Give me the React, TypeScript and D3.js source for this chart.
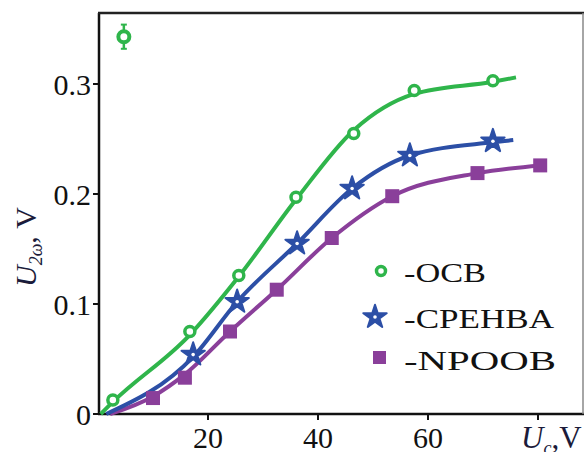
import React from "react";
import * as d3 from "d3";

const xTicks = [20, 40, 60, 80];
const yTicks = [0, 0.1, 0.2, 0.3];
const yTickLabels = ["0", "0.1", "0.2", "0.3"];

const ocbX = [2.7, 16.7, 25.6, 36, 46.5, 57.5, 71.8];
const ocbY = [0.0127, 0.075, 0.126, 0.197, 0.255, 0.294, 0.303];
const ocbFitX = [0.5, 2.7, 16.7, 25.6, 36, 46.5, 57.5, 71.8, 76];
const ocbFitY = [0, 0.011, 0.072, 0.125, 0.195, 0.258, 0.291, 0.302, 0.306];

const outlierX = [4.7];
const outlierY = [0.343];
const outlierErr = [0.011];

const cpeX = [17.3, 25.3, 36.2, 46.2, 56.7, 71.8];
const cpeY = [0.054, 0.102, 0.155, 0.205, 0.235, 0.248];
const cpeFitX = [1.5, 17.3, 25.3, 36.2, 46.2, 56.7, 71.8, 75.5];
const cpeFitY = [0, 0.052, 0.102, 0.155, 0.205, 0.235, 0.247, 0.249];

const npoX = [10, 15.8, 24, 32.5, 42.5, 53.5, 69, 80.4];
const npoY = [0.0145, 0.033, 0.075, 0.113, 0.16, 0.198, 0.219, 0.226];
const npoFitX = [2.2, 10, 15.8, 24, 32.5, 42.5, 53.5, 69, 80.4];
const npoFitY = [0, 0.016, 0.036, 0.075, 0.113, 0.16, 0.198, 0.219, 0.226];

const legendLabels = ["-OCB", "-CPEHBA", "-NPOOB"];

const GREEN = "#2fb54b";
const BLUE = "#2c4fa6";
const PURPLE = "#8a3f9a";

export default function App() {
  const left = 98, right = 585, top = 13, bottom = 414;
  const x = d3.scaleLinear().domain([0, (right - left) / 5.5]).range([left, right]);
  const y = d3.scaleLinear().domain([0, (bottom - top) / 1100]).range([bottom, top]);
  const line = d3
    .line<[number, number]>()
    .x((d) => x(d[0]))
    .y((d) => y(d[1]))
    .curve(d3.curveMonotoneX);
  const zip = (a: number[], b: number[]) => a.map((v, i) => [v, b[i]] as [number, number]);
  const star = d3.symbol().type(d3.symbolStar).size(170)();
  const font = "Liberation Serif, Tinos, 'Times New Roman', Times, serif";
  const legendY = [282, 328, 370];
  const legendLen = [82, 150, 152];

  return (
    <svg width={587} height={452} style={{ position: "absolute", left: 0, top: 0 }}>
      <rect x={0} y={0} width={587} height={452} fill="#fff" />
      {/* frame */}
      <line x1={left + 1} y1={top} x2={left + 1} y2={bottom} stroke="#111" strokeWidth={2.5} />
      <line x1={left} y1={top} x2={right - 1} y2={top} stroke="#222" strokeWidth={2.5} />
      <line x1={left} y1={bottom} x2={right - 1} y2={bottom} stroke="#111" strokeWidth={2.5} />
      <line x1={right - 2} y1={top} x2={right - 2} y2={bottom} stroke="#888" strokeWidth={1.5} />
      {/* y ticks */}
      {yTicks.map((t, i) => (
        <g key={"y" + i}>
          <line x1={left - 5} x2={left} y1={y(t)} y2={y(t)} stroke="#111" strokeWidth={2} />
          <text x={91} y={y(t)} dy="0.35em" textAnchor="end" fontFamily={font} fontSize={30} fill="#111">
            {yTickLabels[i]}
          </text>
        </g>
      ))}
      {xTicks.map((t, i) => (
        <g key={"x" + i}>
          <line x1={x(t)} x2={x(t)} y1={bottom} y2={bottom + 6} stroke="#111" strokeWidth={2} />
          {t !== 80 && (
            <text x={x(t)} y={448} textAnchor="middle" fontFamily={font} fontSize={30} fill="#111">
              {t}
            </text>
          )}
        </g>
      ))}
      {/* axis labels */}
      <text x={521} y={448} fontFamily={font} fontSize={31} fill="#1b1b3a">
        <tspan fontStyle="italic">U</tspan>
        <tspan fontStyle="italic" fontSize={18} dy={6}>c</tspan>
        <tspan dy={-6}>,V</tspan>
      </text>
      <text
        transform="translate(36,247) rotate(-90)"
        textAnchor="middle"
        fontFamily={font}
        fontSize={30}
        fill="#1b1b3a"
      >
        <tspan fontStyle="italic">U</tspan>
        <tspan fontStyle="italic" fontSize={18} dy={6}>2ω</tspan>
        <tspan dy={-6}>, V</tspan>
      </text>
      {/* lines */}
      <path d={line(zip(npoFitX, npoFitY)) || ""} fill="none" stroke={PURPLE} strokeWidth={4} />
      <path d={line(zip(cpeFitX, cpeFitY)) || ""} fill="none" stroke={BLUE} strokeWidth={4} />
      <path d={line(zip(ocbFitX, ocbFitY)) || ""} fill="none" stroke={GREEN} strokeWidth={4} />
      {/* markers */}
      {npoX.map((v, i) => (
        <rect key={"n" + i} x={x(v) - 7} y={y(npoY[i]) - 7} width={14} height={14} fill={PURPLE} />
      ))}
      {cpeX.map((v, i) => (
        <g key={"c" + i} transform={`translate(${x(v)},${y(cpeY[i])})`}>
          <path d={star || ""} fill={BLUE} stroke={BLUE} strokeWidth={2} strokeLinejoin="round" />
          <circle r={1.8} fill="#fff" />
        </g>
      ))}
      {ocbX.map((v, i) => (
        <circle key={"o" + i} cx={x(v)} cy={y(ocbY[i])} r={5} fill="#fff" stroke={GREEN} strokeWidth={3.5} />
      ))}
      {outlierX.map((v, i) => (
        <g key={"out" + i}>
          <line x1={x(v)} x2={x(v)} y1={y(outlierY[i] - outlierErr[i])} y2={y(outlierY[i] + outlierErr[i])} stroke={GREEN} strokeWidth={2.5} />
          <line x1={x(v) - 3} x2={x(v) + 3} y1={y(outlierY[i] - outlierErr[i])} y2={y(outlierY[i] - outlierErr[i])} stroke={GREEN} strokeWidth={2} />
          <line x1={x(v) - 3} x2={x(v) + 3} y1={y(outlierY[i] + outlierErr[i])} y2={y(outlierY[i] + outlierErr[i])} stroke={GREEN} strokeWidth={2} />
          <circle cx={x(v)} cy={y(outlierY[i])} r={5.5} fill="#fff" stroke={GREEN} strokeWidth={4} />
        </g>
      ))}
      {/* legend */}
      <circle cx={381} cy={271} r={4.5} fill="#fff" stroke={GREEN} strokeWidth={3.5} />
      <g transform="translate(375,317)">
        <path d={star || ""} fill={BLUE} stroke={BLUE} strokeWidth={2} strokeLinejoin="round" />
        <circle r={1.8} fill="#fff" />
      </g>
      <rect x={373} y={351} width={13} height={13} fill={PURPLE} />
      {legendLabels.map((l, i) => (
        <text
          key={"l" + i}
          x={404}
          y={legendY[i]}
          fontFamily={font}
          fontSize={28}
          fill="#111"
          textLength={legendLen[i]}
          lengthAdjust="spacingAndGlyphs"
        >
          {l}
        </text>
      ))}
    </svg>
  );
}
